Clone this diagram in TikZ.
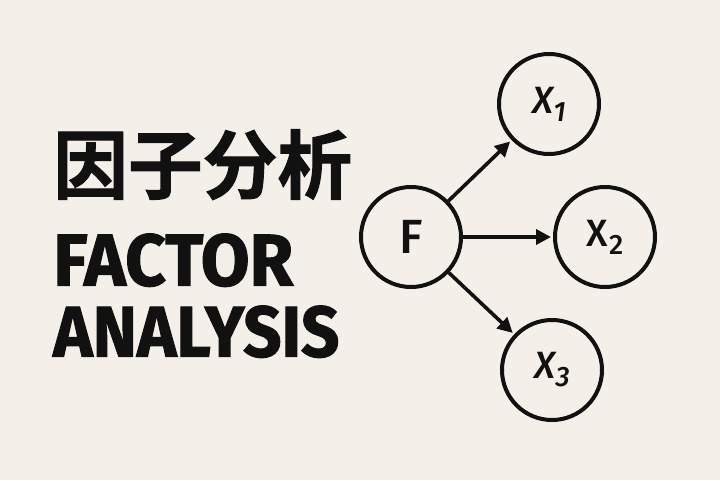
\documentclass[tikz,border=0pt]{standalone}
\usepackage{fontspec}
\setmainfont{Fira Sans}
\newfontfamily\cjkbold{Noto Sans CJK SC Bold}[FakeBold=1.5]
\newfontfamily\titlefont{Fira Sans}[UprightFont=* Bold,FakeBold=1.5]
\newfontfamily\labelfont{Fira Sans Medium}[ItalicFont=* Italic]
\usetikzlibrary{arrows.meta}
\definecolor{bg}{HTML}{F4F0E9}
\definecolor{ink}{HTML}{111111}
\tikzset{
  var/.style={circle,draw=ink,line width=4pt,minimum size=100pt,inner sep=0pt,text=ink,font=\labelfont},
  link/.style={draw=ink,line width=3.6pt,-{Triangle[length=15pt,width=15pt]},shorten >=2pt}
}
\begin{document}
\begin{tikzpicture}[x=1pt,y=-1pt]
\fill[bg] (0,0) rectangle (720,480);
\useasboundingbox (0,0) rectangle (720,480);
\node[anchor=south west,inner sep=0pt,text=ink] (cn) at (53,200) {\resizebox{299pt}{!}{\cjkbold 因子分析}};
\node[anchor=south west,inner sep=0pt,text=ink] (en1) at (53,287) {\resizebox{240pt}{52pt}{\titlefont FACTOR}};
\node[anchor=south west,inner sep=0pt,text=ink] (en2) at (53,358) {\resizebox{286pt}{51pt}{\titlefont ANALYSIS}};
\node[var] (F) at (411,237) {\fontsize{48}{48}\selectfont F};
\node[var] (X1) at (549,104) {\fontsize{38}{38}\selectfont\itshape X\raisebox{-8pt}{\fontsize{28}{28}\selectfont 1}};
\node[var] (X2) at (605,237) {\fontsize{38}{38}\selectfont X\kern1pt\raisebox{-8pt}{\fontsize{28}{28}\selectfont 2}};
\node[var] (X3) at (552,370) {\fontsize{38}{38}\selectfont\itshape X\raisebox{-8pt}{\fontsize{28}{28}\selectfont 3}};
\draw[link] (F) -- (X1);
\draw[link] (F) -- (X2);
\draw[link] (F) -- (X3);
\end{tikzpicture}
\end{document}
